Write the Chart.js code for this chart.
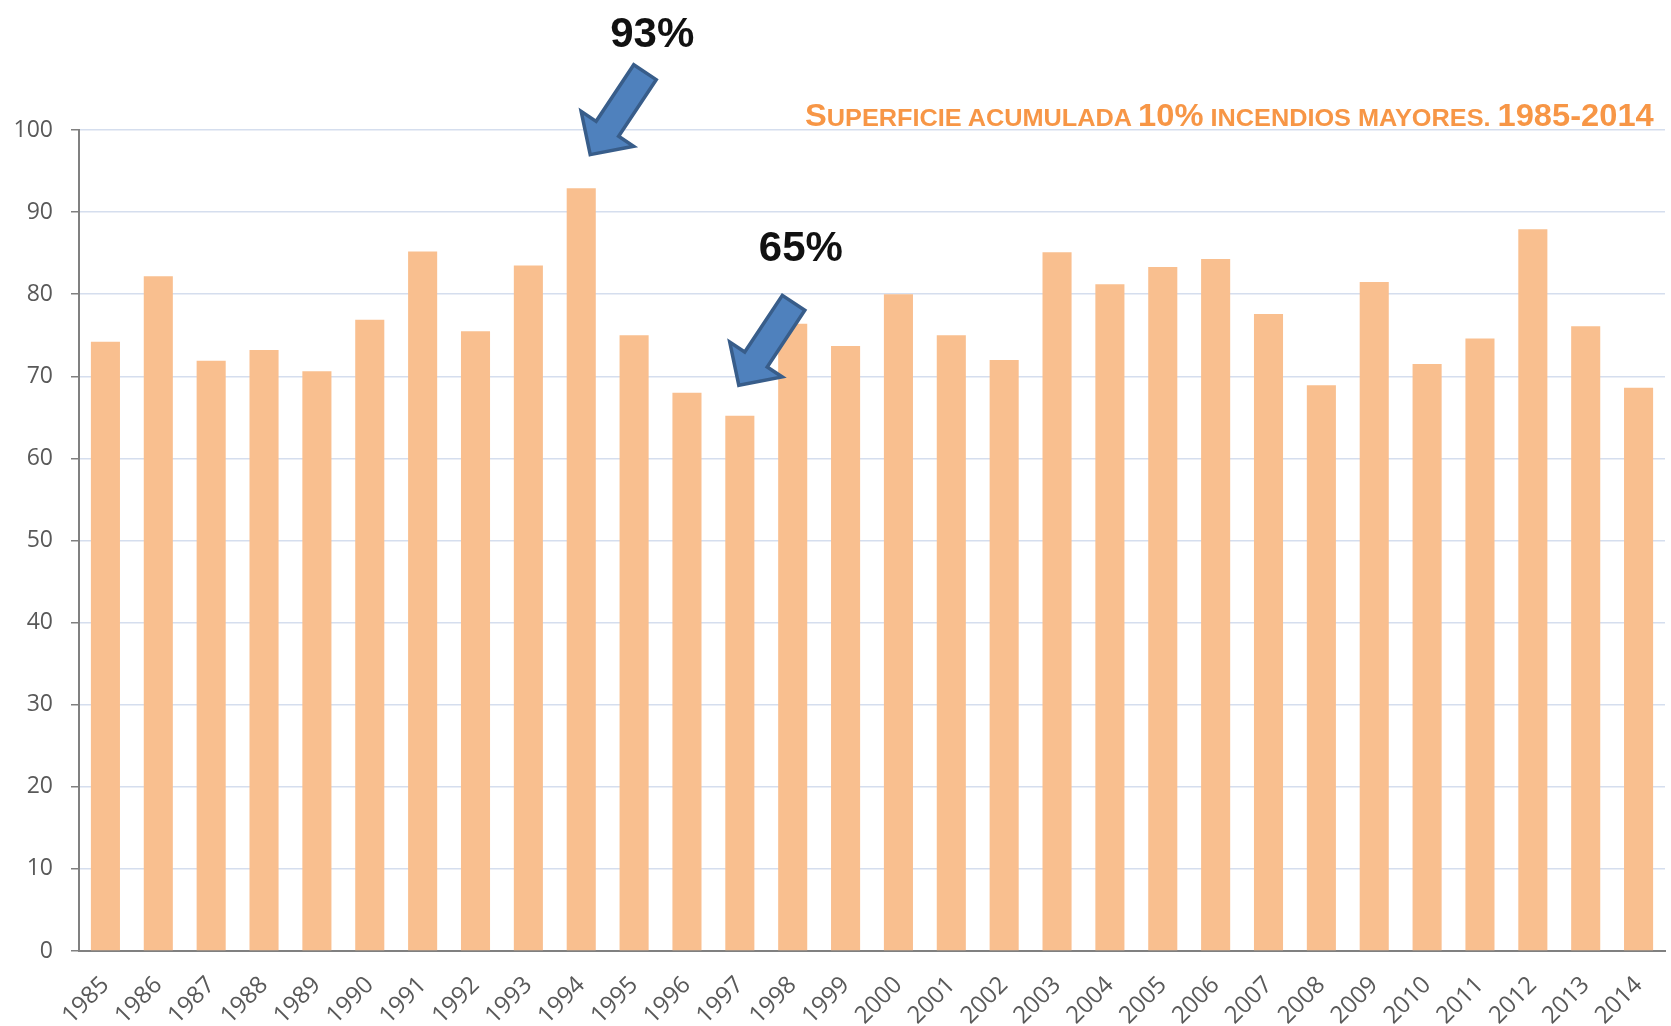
<!DOCTYPE html>
<html>
<head>
<meta charset="utf-8">
<script src="https://cdn.jsdelivr.net/npm/chart.js@4.4.0/dist/chart.umd.min.js"></script>
<style>
  body { margin: 0; background: #fff; }
  #wrap { position: relative; width: 1671px; height: 1026px; }
  #titulo {
    position: absolute; right: 17px; top: 100px;
    font-family: 'Liberation Sans Narrow', 'Liberation Sans', sans-serif;
    font-weight: bold; font-size: 31px; color: #F79646;
    white-space: nowrap; line-height: 1; transform-origin: right center;
  }
  #titulo .sc { font-size: 24px; }
</style>
</head>
<body>
<div id="wrap">
  <canvas id="grafico"></canvas>
  <div id="titulo">S<span class="sc">UPERFICIE ACUMULADA </span>10%<span class="sc"> INCENDIOS MAYORES. </span>1985-2014</div>
</div>
<script>
const anos = ['1985','1986','1987','1988','1989','1990','1991','1992','1993','1994',
  '1995','1996','1997','1998','1999','2000','2001','2002','2003','2004',
  '2005','2006','2007','2008','2009','2010','2011','2012','2013','2014'];
const superficie = [74.2, 82.2, 71.9, 73.2, 70.6, 76.9, 85.2, 75.5, 83.5, 92.9,
  75.0, 68.0, 65.2, 76.4, 73.7, 80.0, 75.0, 72.0, 85.1, 81.2,
  83.3, 84.3, 77.6, 68.9, 81.5, 71.5, 74.6, 87.9, 76.1, 68.6];
const ticksY = [0, 10, 20, 30, 40, 50, 60, 70, 80, 90, 100];

// flechas: año, valor donde apunta la punta, etiqueta
const flechas = [
  { ano: '1994', valor: 97, etiqueta: '93%', dx: 9, dyTexto: -119 },
  { ano: '1997', valor: 68.9, etiqueta: '65%', dx: -1, dyTexto: -136 }
];

// ajustar el ancho del titulo al original
const titulo = document.getElementById('titulo');
titulo.style.transform = 'scaleX(' + (849 / titulo.offsetWidth) + ')';

const pluginFlechas = {
  id: 'flechas',
  afterDatasetsDraw(chart) {
    const ctx = chart.ctx;
    const x = chart.scales.x, y = chart.scales.y;
    flechas.forEach(f => {
      const tx = x.getPixelForValue(anos.indexOf(f.ano)) + f.dx;
      const ty = y.getPixelForValue(f.valor);
      // direccion punta -> cola
      const ux = 0.553, uy = -0.833;
      const px = -uy, py = ux;
      const largo = 99, cabeza = 31, medioCuerpo = 13.5, medioCabeza = 31.5;
      const pt = (a, b) => [tx + ux * a + px * b, ty + uy * a + py * b];
      const pts = [
        pt(0, 0),
        pt(cabeza, medioCabeza),
        pt(cabeza, medioCuerpo),
        pt(largo, medioCuerpo),
        pt(largo, -medioCuerpo),
        pt(cabeza, -medioCuerpo),
        pt(cabeza, -medioCabeza)
      ];
      ctx.save();
      ctx.beginPath();
      ctx.moveTo(pts[0][0], pts[0][1]);
      for (let i = 1; i < pts.length; i++) ctx.lineTo(pts[i][0], pts[i][1]);
      ctx.closePath();
      ctx.fillStyle = '#4F81BD';
      ctx.fill();
      ctx.lineWidth = 3.5;
      ctx.strokeStyle = '#385D8A';
      ctx.stroke();

      ctx.fillStyle = '#111';
      ctx.font = 'bold 42px "Liberation Sans", Arial, sans-serif';
      ctx.textAlign = 'center';
      ctx.textBaseline = 'middle';
      ctx.fillText(f.etiqueta, tx + 62, ty + f.dyTexto);
      ctx.restore();
    });
  }
};

const ctx = document.getElementById('grafico').getContext('2d');
new Chart(ctx, {
  type: 'bar',
  data: {
    labels: anos,
    datasets: [{
      data: superficie,
      backgroundColor: '#F9BF8F',
      barPercentage: 0.55,
      categoryPercentage: 1
    }]
  },
  options: {
    responsive: true,
    maintainAspectRatio: false,
    animation: false,
    layout: { padding: { top: 130, right: 4, left: 0, bottom: 0 } },
    plugins: { legend: { display: false }, tooltip: { enabled: false } },
    scales: {
      x: {
        grid: { display: false },
        border: { color: '#808080', width: 2 },
        ticks: {
          color: '#595959', maxRotation: 45, minRotation: 45, padding: 12,
          autoSkip: false,
          font: { family: 'Open Sans', size: 24 }
        },
        afterFit: s => { s.height = 75; }
      },
      y: {
        min: 0, max: 100,
        afterBuildTicks: s => { s.ticks = ticksY.map(v => ({ value: v })); },
        grid: { color: '#D5DEEE', lineWidth: 1.5, tickColor: '#808080', tickLength: 8 },
        border: { color: '#808080', width: 2 },
        ticks: {
          color: '#595959', padding: 18,
          font: { family: 'Open Sans', size: 23 }
        },
        afterFit: s => { s.width = 79; }
      }
    }
  },
  plugins: [pluginFlechas]
});
</script>
</body>
</html>
